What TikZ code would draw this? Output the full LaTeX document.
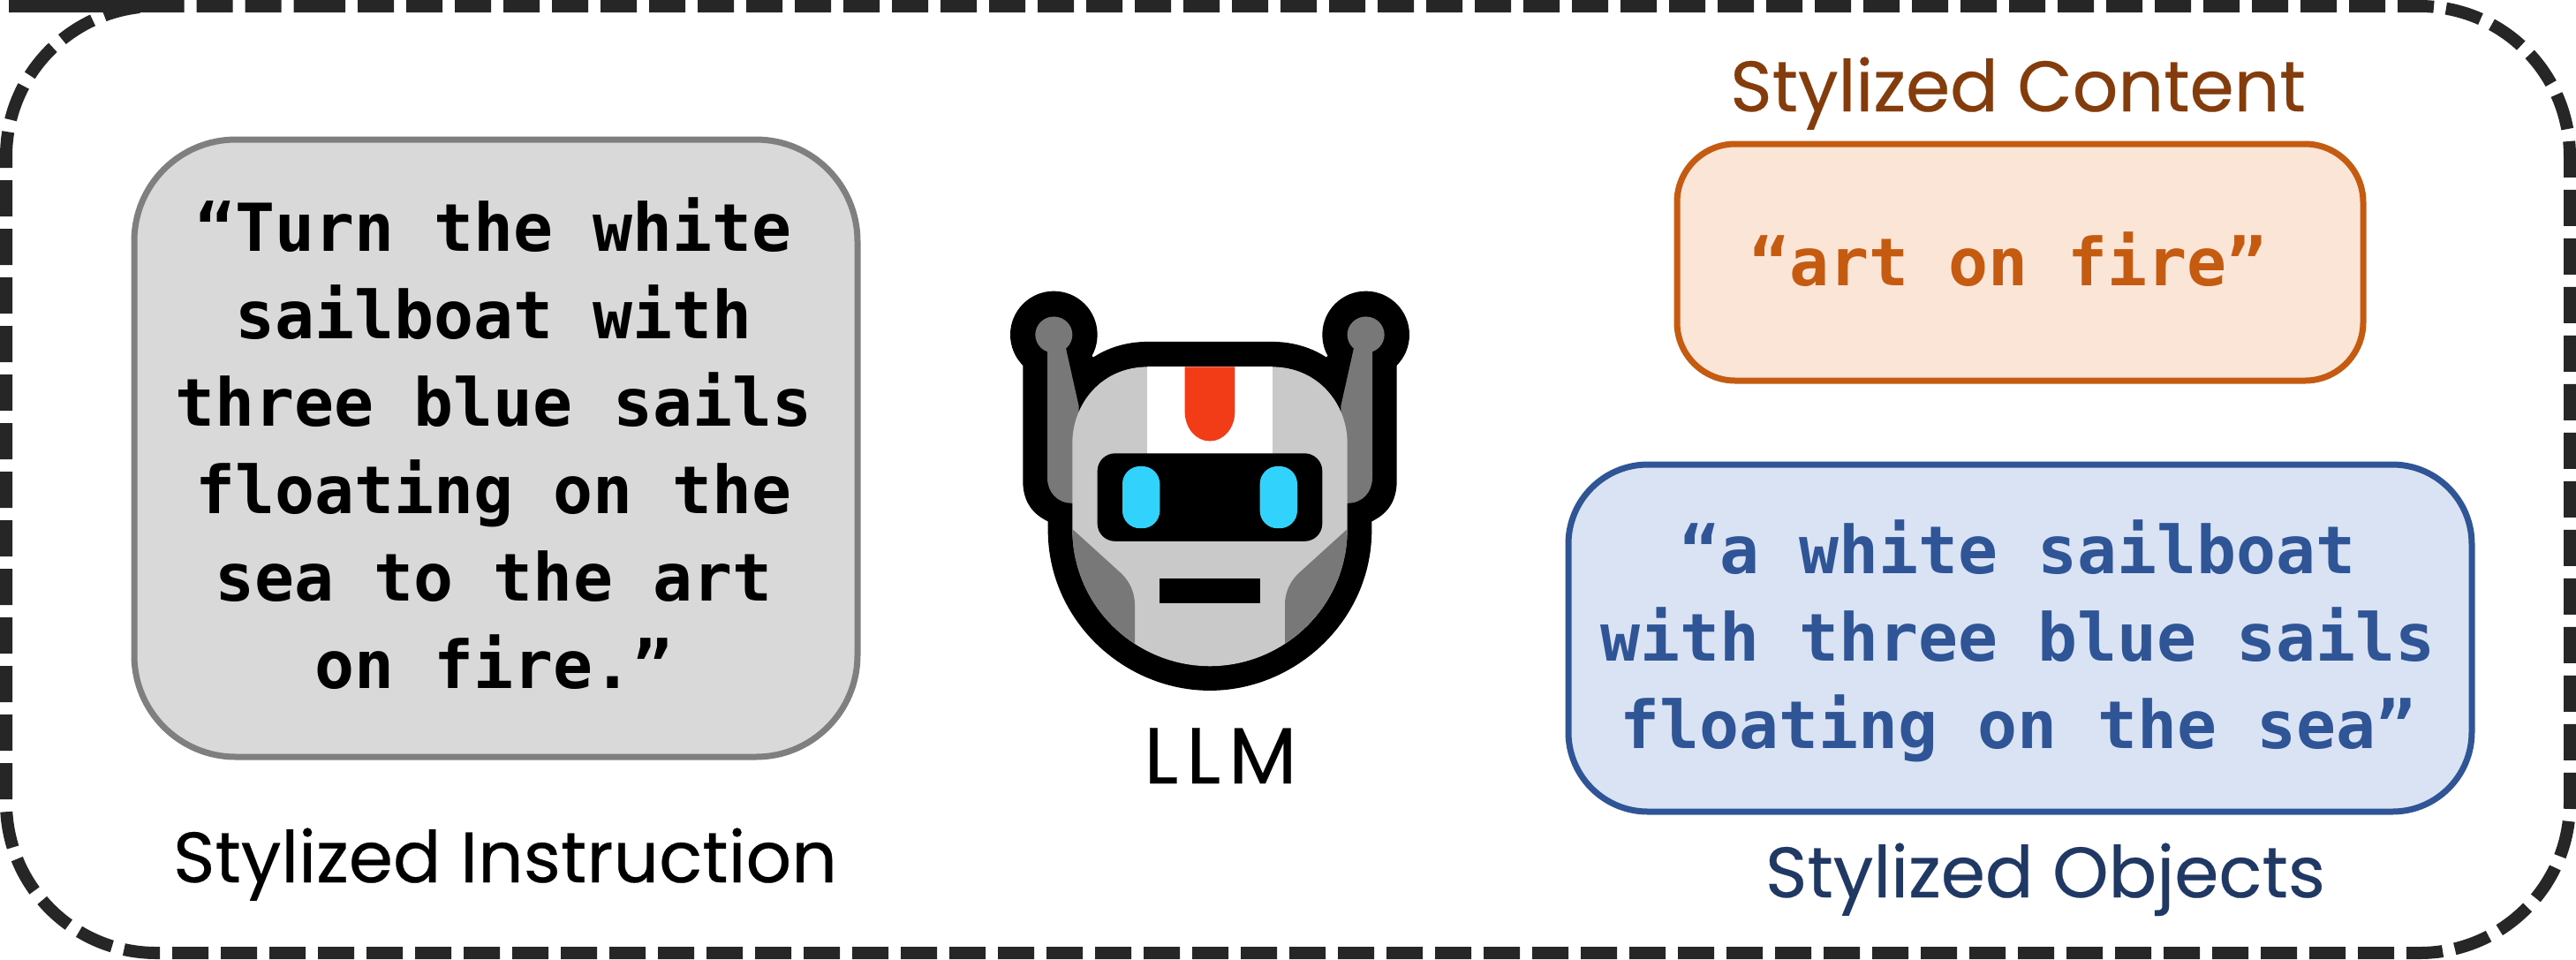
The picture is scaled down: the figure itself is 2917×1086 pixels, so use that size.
\documentclass[tikz,border=0pt]{standalone}
\usepackage{fontspec}
\setmainfont{Poppins}[FakeBold=0.3]
\newfontfamily\codefont{DejaVu Sans Mono}
\definecolor{dashc}{HTML}{262626}
\definecolor{grayfill}{HTML}{D9D9D9}
\definecolor{graydraw}{HTML}{7F7F7F}
\definecolor{orfill}{HTML}{FBE5D6}
\definecolor{ordraw}{HTML}{C55A11}
\definecolor{orlabel}{HTML}{843C0C}
\definecolor{blfill}{HTML}{DAE3F3}
\definecolor{bldraw}{HTML}{2F5597}
\definecolor{bllabel}{HTML}{203864}
\definecolor{robgray}{HTML}{C9C9C9}
\definecolor{robdark}{HTML}{787878}
\definecolor{robred}{HTML}{F23C17}
\definecolor{robeye}{HTML}{31D2FB}
\tikzset{
  boxline/.style={line width=1.75pt},
  codetext/.style={font=\codefont\bfseries\fontsize{18.7}{24.75}\selectfont,align=center,inner sep=0pt},
  labeltext/.style={font=\fontsize{20.2}{24}\selectfont,inner sep=0pt,anchor=base},
}
\newcommand{\headpath}{(600,292) -- (1020,292) .. controls (1180,292) and (1277,400) .. (1277,510) -- (1277,757) .. controls (1277,980) and (1060,1150) .. (810,1150) .. controls (560,1150) and (343,980) .. (343,757) -- (343,510) .. controls (343,400) and (440,292) .. (600,292) -- cycle}
\newcommand{\robotsideblack}{%
  \fill[black] (1340,200) ellipse [x radius=148,y radius=125];
  \fill[black] (1205,265) -- (1290,200) -- (1445,280) -- (1445,620) .. controls (1445,680) and (1410,715) .. (1360,735) -- (1277,735) -- (1240,400) -- cycle;
}
\newcommand{\robotsidegray}{%
  \fill[robdark] (1340,200) ellipse [x radius=63,y radius=52];
  \fill[robdark] (1300,235) -- (1255,405) -- (1255,683) -- (1277,683) .. controls (1330,683) and (1362,650) .. (1362,610) -- (1362,235) -- cycle;
}
\newcommand{\robotcheek}{%
  \fill[robdark] (343,757) -- (510,885) .. controls (540,910) and (555,940) .. (555,975) -- (555,1200) -- (300,1200) -- (300,757) -- cycle;
}
\begin{document}
\begin{tikzpicture}[x=0.25pt,y=-0.25pt]
\useasboundingbox (0,0) rectangle (2917,1086);
% outer dashed frame
\draw[dashc,line width=3.5pt,dash pattern=on 10.25pt off 3.5pt,rounded corners=42.5pt]
  (180,7) -- (2910,7) -- (2910,1079) -- (7,1079) -- (7,7) -- cycle;
% boxes
\draw[boxline,draw=graydraw,fill=grayfill,rounded corners=28.75pt] (152,158) rectangle (971,857);
\draw[boxline,draw=ordraw,fill=orfill,rounded corners=16.5pt] (1899,163) rectangle (2676,431);
\draw[boxline,draw=bldraw,fill=blfill,rounded corners=22.5pt] (1776,526) rectangle (2799,919);
% box texts
\node[codetext,text=black] (instr) at (559,502) {“Turn the white\\sailboat with\\three blue sails\\floating on the\\sea to the art\\on fire.”};
\node[codetext,text=ordraw] (content) at (2274,294) {“art on fire”};
\node[codetext,text=bldraw] (objects) at (2285,726) {“a white sailboat\\with three blue sails\\floating on the sea”};
% labels
\node[labeltext,text=black] (linstr) at (572,999) {Stylized Instruction};
\node[labeltext,text=orlabel] (lcontent) at (2285,126) {Stylized Content};
\node[labeltext,text=bllabel] (lobjects) at (2316,1016) {Stylized Objects};
\node[labeltext,text=black,font=\fontsize{22.5}{26}\selectfont\addfontfeature{LetterSpace=10}] (llm) at (1382,887) {LLM};
% robot
\begin{scope}[shift={(1100,300)},xscale=0.33333,yscale=0.395]
  \robotsideblack
  \begin{scope}[shift={(1620,0)},xscale=-1]
    \robotsideblack
  \end{scope}
  \fill[black] (600,220) -- (1020,220) .. controls (1230,220) and (1360,360) .. (1360,520) -- (1360,760) .. controls (1360,1020) and (1100,1220) .. (810,1220) .. controls (520,1220) and (260,1020) .. (260,760) -- (260,520) .. controls (260,360) and (390,220) .. (600,220) -- cycle;
  \robotsidegray
  \begin{scope}[shift={(1620,0)},xscale=-1]
    \robotsidegray
  \end{scope}
  \fill[robgray] \headpath;
  \begin{scope}
    \clip \headpath;
    \robotcheek
    \begin{scope}[shift={(1620,0)},xscale=-1]
      \robotcheek
    \end{scope}
  \end{scope}
  \fill[white] (597,292) rectangle (1022,545);
  \fill[robred] (725,292) -- (895,292) -- (895,420) .. controls (895,470) and (855,505) .. (810,505) .. controls (765,505) and (725,470) .. (725,420) -- cycle;
  \fill[black,rounded corners=5pt] (428,540) rectangle (1192,792);
  \fill[robeye,rounded corners=5pt] (513,577) rectangle (640,755);
  \fill[robeye,rounded corners=5pt] (980,577) rectangle (1107,755);
  \fill[black] (638,898) rectangle (980,970);
\end{scope}
\end{tikzpicture}
\end{document}
